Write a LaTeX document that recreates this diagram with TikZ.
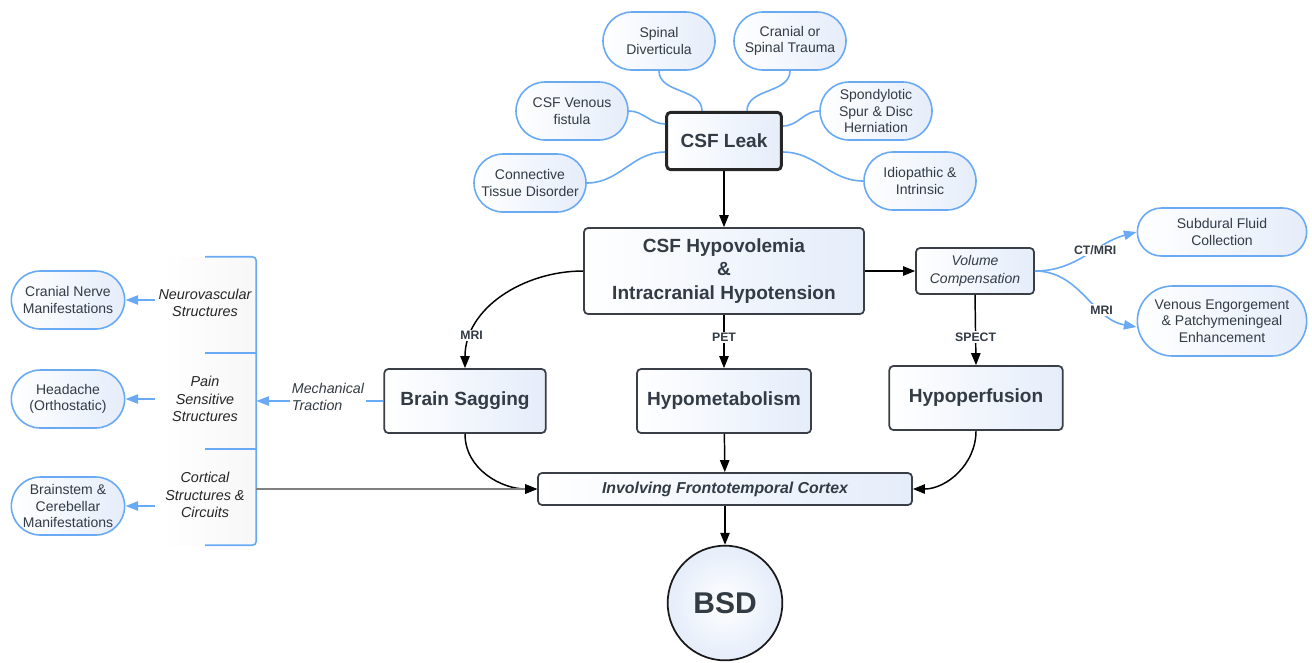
\documentclass[tikz,border=0pt]{standalone}
\usepackage{fontspec}
\setmainfont{Liberation Sans}
\usepackage{tikz}
\usetikzlibrary{arrows.meta}
\usetikzlibrary{positioning,
                calc,
                shapes.misc}
\definecolor{leafblue}{HTML}{6AAAF5}
\definecolor{boxline}{HTML}{3A3F47}
\definecolor{boxtext}{HTML}{333B45}
\definecolor{boxfill}{HTML}{E5EDFA}

\begin{document}
\begin{tikzpicture}[
        x=0.75pt, y=-0.75pt,
        every node/.style={text=boxtext, align=center, font=\fontsize{10.5}{12.5}\selectfont},
        leaf/.style={rounded rectangle, draw=leafblue, line width=1.2pt, left color=white, right color=boxfill, minimum width=86pt, minimum height=43.5pt, inner sep=1pt},
        box/.style={draw=boxline, line width=1.3pt, rounded corners=3pt, left color=white, right color=boxfill, inner sep=1pt, font=\bfseries\fontsize{14.3}{17.5}\selectfont},
        tag/.style={fill=white, inner sep=1pt, font=\bfseries\fontsize{9.2}{11}\selectfont},
        struct/.style={font=\itshape\fontsize{10.8}{13}\selectfont, text=black!85, minimum width=75pt, inner sep=0pt},
        arr/.style={-{Triangle[length=9pt,width=7pt]}, line width=1.1pt, black},
        leafline/.style={leafblue, line width=1.2pt},
        leafarr/.style={leafline, -{Triangle[length=9.5pt,width=7pt]}}
        ]
        \useasboundingbox (0,0) rectangle (1312,662);

        % Nodes
        \node[box, line width=2.2pt, draw=black!85, minimum width=86pt, minimum height=43pt] (leak) at (724,141) {CSF Leak};
        \node[leaf] (spinal) at (659,41) {Spinal\\Diverticula};
        \node[leaf] (trauma) at (790,41) {Cranial or\\Spinal Trauma};
        \node[leaf] (fistula) at (572,111) {CSF Venous\\fistula};
        \node[leaf] (spur) at (876,111) {Spondylotic\\Spur \& Disc\\Herniation};
        \node[leaf] (tissue) at (530,183) {Connective\\Tissue Disorder};
        \node[leaf] (idiopathic) at (920,181) {Idiopathic \&\\Intrinsic};

        \node[box, minimum width=210pt, minimum height=64.5pt] (hypovol) at (724,271) {CSF Hypovolemia\\\&\\Intracranial Hypotension};
        \node[box, font=\itshape\fontsize{10.5}{13.5}\selectfont, minimum width=88.5pt, minimum height=34.5pt] (volume) at (975,271) {Volume\\Compensation};
        \node[leaf, minimum width=129pt, minimum height=36pt] (subdural) at (1222,232) {Subdural Fluid\\Collection};
        \node[leaf, minimum width=129pt, minimum height=52.5pt] (engorge) at (1222,321) {Venous Engorgement\\\& Patchymeningeal\\Enhancement};

        \node[box, minimum width=121pt, minimum height=48pt] (sagging) at (465,401) {Brain Sagging};
        \node[box, minimum width=130.5pt, minimum height=48pt] (metab) at (724,401) {Hypometabolism};
        \node[box, minimum width=130pt, minimum height=48pt] (perfusion) at (976,398) {Hypoperfusion};
        \node[box, font=\bfseries\itshape\fontsize{11.9}{14}\selectfont, minimum width=280.5pt, minimum height=24pt] (cortex) at (725,489) {Involving Frontotemporal Cortex};
        \node[circle, draw=black!90, line width=1.3pt, inner color=white, outer color=boxfill, minimum size=86pt, font=\bfseries\fontsize{22.5}{26}\selectfont] (bsd) at (725,603) {BSD};

        % Structures panel
        \node[minimum width=72pt, minimum height=216pt, left color=white, middle color=boxfill!85, right color=gray!6] (panel) at (208,401) {};
        \draw[leafline, rounded corners=3pt] ($(panel.north)+(-3,0)$) -- (panel.north east) -- (panel.south east) -- ($(panel.south)+(-3,0)$);
        \draw[leafline] ($(panel.north)+(-3,96)$) -- ($(panel.north east)+(0,96)$);
        \draw[leafline] ($(panel.north)+(-3,192)$) -- ($(panel.north east)+(0,192)$);
        \node[struct] (neuro) at (205,303) {Neurovascular\\Structures};
        \node[struct] (pain) at (205,399) {Pain\\Sensitive\\Structures};
        \node[struct] (cortical) at (205,495) {Cortical\\Structures \&\\Circuits};
        \node[leaf, minimum width=87pt] (nerve) at (68,300) {Cranial Nerve\\Manifestations};
        \node[leaf, minimum width=87pt] (headache) at (68,399) {Headache\\(Orthostatic)};
        \node[leaf, minimum width=87pt] (brainstem) at (68,506) {Brainstem \&\\Cerebellar\\Manifestations};
        \node[font=\itshape\fontsize{10.7}{13}\selectfont, align=left, inner sep=1pt] (traction) at (328,397) {Mechanical\\Traction};

        % Arrows
        \draw[leafline] (spinal.south) to[out=-90, in=90] ($(leak.north)+(-22,0)$);
        \draw[leafline] (trauma.south) to[out=-90, in=90] ($(leak.north)+(23,0)$);
        \draw[leafline] (fistula.east) to[out=0, in=180] ($(leak.west)+(0,-17)$);
        \draw[leafline] (tissue.east) to[out=0, in=180] ($(leak.west)+(0,11)$);
        \draw[leafline] ($(leak.east)+(0,-15)$) to[out=0, in=180] (spur.west);
        \draw[leafline] ($(leak.east)+(0,11)$) to[out=0, in=180] (idiopathic.west);

        \draw[arr] (leak) -- (hypovol);
        \draw[arr] (hypovol) -- (volume);
        \draw[arr] (hypovol.west) to[out=180, in=90] node[tag, pos=.8] {MRI} (sagging.north);
        \draw[arr] (hypovol) -- node[tag, pos=.42] {PET} (metab);
        \draw[arr] (volume.south) -- node[tag, pos=.6] {SPECT} (perfusion.north);
        \draw[leafarr] (volume.east) to[out=0, in=195] node[tag, pos=.6] {CT/MRI} (subdural.west);
        \draw[leafarr] (volume.east) to[out=0, in=170] node[tag, pos=.68] {MRI} ($(engorge.west)+(0,6)$);

        \draw[arr] (sagging.south) to[out=-90, in=180] (cortex.west);
        \draw[arr] (metab) -- (cortex);
        \draw[arr] (perfusion.south) to[out=-90, in=0] (cortex.east);
        \draw[arr] (cortex) -- (bsd);
        \draw[gray, line width=1pt, -{Triangle[length=9pt,width=7pt,black]}] (panel.east |- cortex.west) -- (cortex.west);

        \draw[leafline] (sagging.west) -- (sagging.west -| traction.east);
        \draw[leafarr] (traction.west |- sagging.west) -- (panel.east |- sagging.west);
        \draw[leafarr] (neuro.west |- nerve.east) -- (nerve.east);
        \draw[leafarr] (pain.west |- headache.east) -- (headache.east);
        \draw[leafarr] (cortical.west |- brainstem.east) -- (brainstem.east);

\end{tikzpicture}
\end{document}
